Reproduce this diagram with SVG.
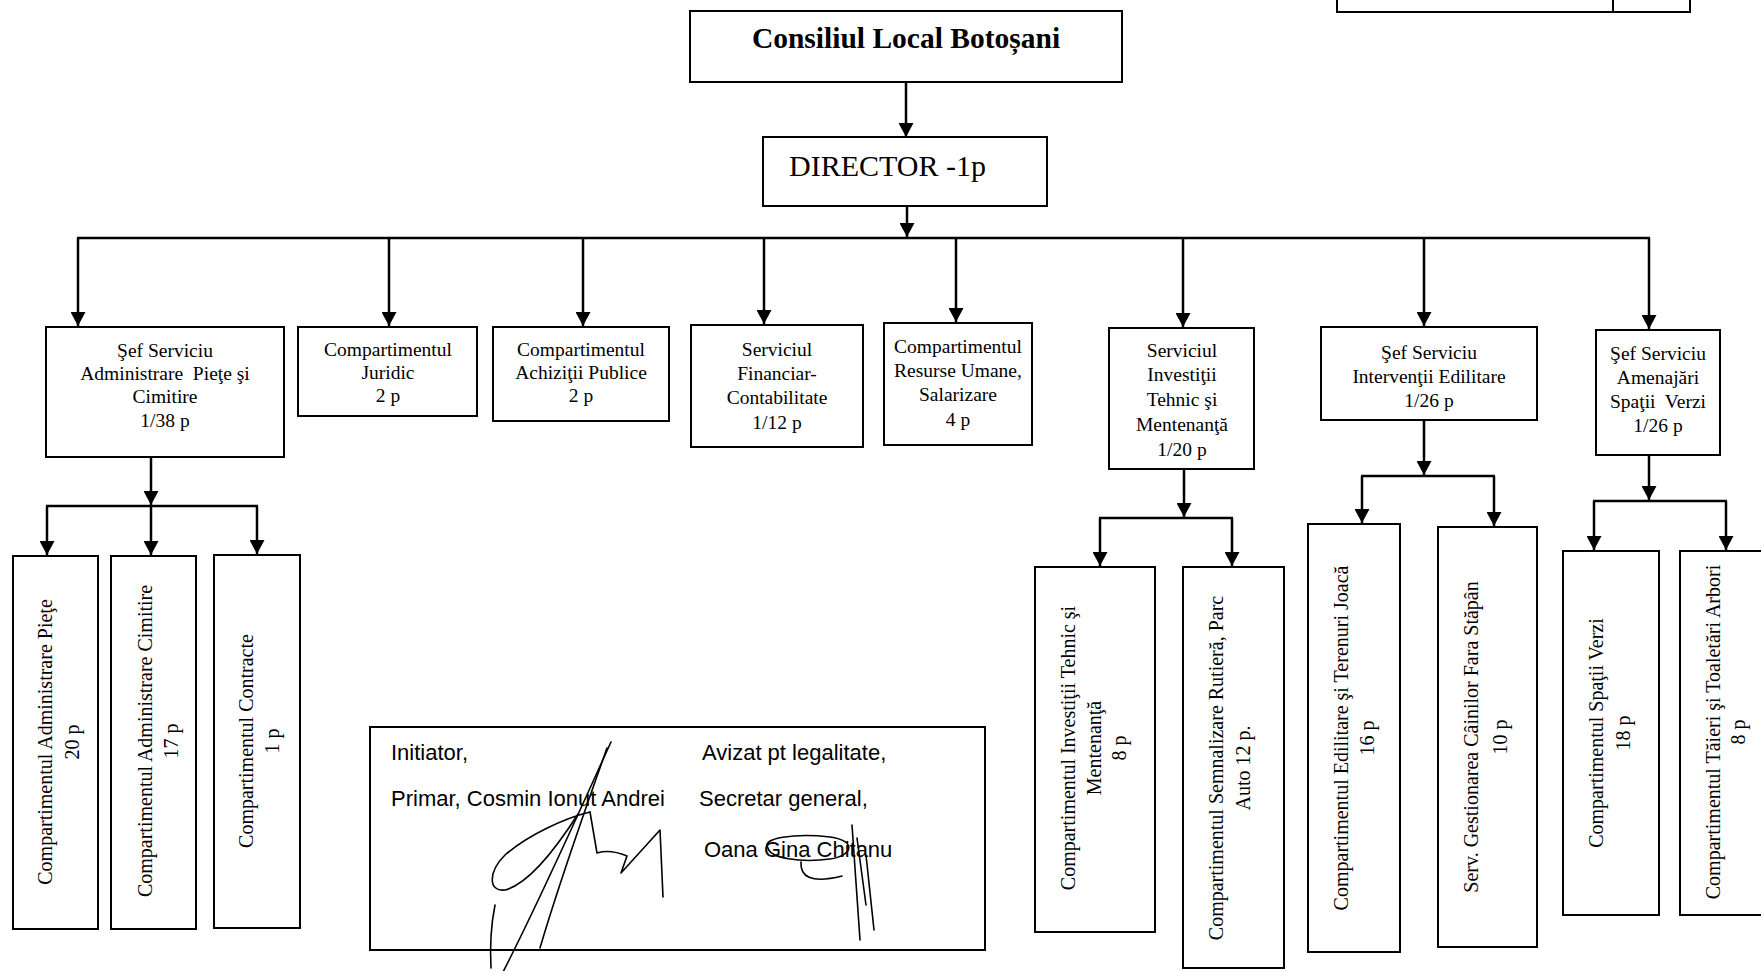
<svg xmlns="http://www.w3.org/2000/svg" width="1761" height="971" viewBox="0 0 1761 971">
<defs>
<style>
.box{fill:#fff;stroke:#000;stroke-width:2}
.ln{fill:none;stroke:#000;stroke-width:2.5}
.arr{fill:none;stroke:#000;stroke-width:2.5;marker-end:url(#ah)}
.t{font-family:"Liberation Serif","Times New Roman",serif;font-size:19.5px;fill:#000;text-anchor:middle}
.v{font-family:"Liberation Serif","Times New Roman",serif;font-size:20px;fill:#000;text-anchor:middle}
.s{font-family:"Liberation Sans",Arial,sans-serif;font-size:22px;fill:#000}
.sig{fill:none;stroke:#000;stroke-width:1.6;stroke-linecap:round;stroke-linejoin:round}
</style>
<marker id="ah" markerUnits="userSpaceOnUse" markerWidth="15" markerHeight="15" refX="14" refY="7.5" orient="auto">
<path d="M0,0 L14,7.5 L0,15 z" fill="#000"/>
</marker>
</defs>
<rect width="1761" height="971" fill="#fff"/>

<g id="connectors">
<line class="arr" x1="906" y1="82" x2="906" y2="137"/>
<line class="arr" x1="907" y1="206" x2="907" y2="237"/>
<line class="ln" x1="77" y1="238" x2="1650" y2="238"/>
<line class="arr" x1="78" y1="238" x2="78" y2="326"/>
<line class="arr" x1="389" y1="238" x2="389" y2="326"/>
<line class="arr" x1="583" y1="238" x2="583" y2="326"/>
<line class="arr" x1="764" y1="238" x2="764" y2="324"/>
<line class="arr" x1="956" y1="238" x2="956" y2="322"/>
<line class="arr" x1="1183" y1="238" x2="1183" y2="327"/>
<line class="arr" x1="1424" y1="238" x2="1424" y2="326"/>
<line class="arr" x1="1649" y1="238" x2="1649" y2="329"/>

<line class="arr" x1="151" y1="457" x2="151" y2="505"/>
<line class="ln" x1="46" y1="506" x2="258" y2="506"/>
<line class="arr" x1="47" y1="506" x2="47" y2="555"/>
<line class="arr" x1="151" y1="506" x2="151" y2="555"/>
<line class="arr" x1="257" y1="506" x2="257" y2="554"/>

<line class="arr" x1="1184" y1="469" x2="1184" y2="517"/>
<line class="ln" x1="1099" y1="518" x2="1233" y2="518"/>
<line class="arr" x1="1100" y1="518" x2="1100" y2="566"/>
<line class="arr" x1="1232" y1="518" x2="1232" y2="566"/>

<line class="arr" x1="1424" y1="420" x2="1424" y2="475"/>
<line class="ln" x1="1361" y1="476" x2="1495" y2="476"/>
<line class="arr" x1="1362" y1="476" x2="1362" y2="523"/>
<line class="arr" x1="1494" y1="476" x2="1494" y2="526"/>

<line class="arr" x1="1649" y1="455" x2="1649" y2="500"/>
<line class="ln" x1="1593" y1="501" x2="1727" y2="501"/>
<line class="arr" x1="1594" y1="501" x2="1594" y2="550"/>
<line class="arr" x1="1726" y1="501" x2="1726" y2="550"/>
</g>

<g id="top-partial">
<rect class="box" x="1337" y="-10" width="353" height="22"/>
<line x1="1613" y1="0" x2="1613" y2="12" stroke="#000" stroke-width="2"/>
</g>

<g id="consiliul">
<rect class="box" x="690" y="11" width="432" height="71"/>
<text x="906" y="48" style="font-family:'Liberation Serif','Times New Roman',serif;font-size:29.5px;font-weight:bold;text-anchor:middle">Consiliul Local Botoșani</text>
</g>

<g id="director">
<rect class="box" x="763" y="137" width="284" height="69"/>
<text x="789" y="176" style="font-family:'Liberation Serif','Times New Roman',serif;font-size:30px">DIRECTOR -1p</text>
</g>

<g id="sef-piete">
<rect class="box" x="46" y="327" width="238" height="130"/>
<text class="t" x="165" y="357">Şef Serviciu</text>
<text class="t" x="165" y="380" xml:space="preserve">Administrare  Pieţe şi</text>
<text class="t" x="165" y="403">Cimitire</text>
<text class="t" x="165" y="427">1/38 p</text>
</g>

<g id="juridic">
<rect class="box" x="298" y="327" width="179" height="89"/>
<text class="t" x="388" y="356">Compartimentul</text>
<text class="t" x="388" y="379">Juridic</text>
<text class="t" x="388" y="402">2 p</text>
</g>

<g id="achizitii">
<rect class="box" x="493" y="327" width="176" height="94"/>
<text class="t" x="581" y="356">Compartimentul</text>
<text class="t" x="581" y="379">Achiziţii Publice</text>
<text class="t" x="581" y="402">2 p</text>
</g>

<g id="financiar">
<rect class="box" x="691" y="325" width="172" height="122"/>
<text class="t" x="777" y="356">Serviciul</text>
<text class="t" x="777" y="380">Financiar-</text>
<text class="t" x="777" y="404">Contabilitate</text>
<text class="t" x="777" y="429">1/12 p</text>
</g>

<g id="resurse">
<rect class="box" x="884" y="323" width="148" height="122"/>
<text class="t" x="958" y="353">Compartimentul</text>
<text class="t" x="958" y="377">Resurse Umane,</text>
<text class="t" x="958" y="401">Salarizare</text>
<text class="t" x="958" y="426">4 p</text>
</g>

<g id="investitii">
<rect class="box" x="1109" y="328" width="145" height="141"/>
<text class="t" x="1182" y="357">Serviciul</text>
<text class="t" x="1182" y="381">Investiţii</text>
<text class="t" x="1182" y="406">Tehnic şi</text>
<text class="t" x="1182" y="431">Mentenanţă</text>
<text class="t" x="1182" y="456">1/20 p</text>
</g>

<g id="interventii">
<rect class="box" x="1321" y="327" width="216" height="93"/>
<text class="t" x="1429" y="359">Şef Serviciu</text>
<text class="t" x="1429" y="383">Intervenţii Edilitare</text>
<text class="t" x="1429" y="407">1/26 p</text>
</g>

<g id="amenajari">
<rect class="box" x="1596" y="330" width="124" height="125"/>
<text class="t" x="1658" y="360">Şef Serviciu</text>
<text class="t" x="1658" y="384">Amenajări</text>
<text class="t" x="1658" y="408" xml:space="preserve">Spaţii  Verzi</text>
<text class="t" x="1658" y="432">1/26 p</text>
</g>

<g id="adm-piete">
<rect class="box" x="13" y="556" width="85" height="373"/>
<text class="v" transform="translate(52,742) rotate(-90)">Compartimentul Administrare Pieţe</text>
<text class="v" transform="translate(79,742) rotate(-90)">20 p</text>
</g>

<g id="adm-cimitire">
<rect class="box" x="111" y="556" width="85" height="373"/>
<text class="v" transform="translate(152,741) rotate(-90)">Compartimentul Administrare Cimitire</text>
<text class="v" transform="translate(178,741) rotate(-90)">17 p</text>
</g>

<g id="contracte">
<rect class="box" x="214" y="555" width="86" height="373"/>
<text class="v" transform="translate(253,741) rotate(-90)">Compartimentul Contracte</text>
<text class="v" transform="translate(279,741) rotate(-90)">1 p</text>
</g>

<g id="inv-tehnic">
<rect class="box" x="1035" y="567" width="120" height="365"/>
<text class="v" transform="translate(1075,748) rotate(-90)">Compartimentul Investiţii Tehnic şi</text>
<text class="v" transform="translate(1101,748) rotate(-90)">Mentenanţă</text>
<text class="v" transform="translate(1126,748) rotate(-90)">8 p</text>
</g>

<g id="semnalizare">
<rect class="box" x="1183" y="567" width="101" height="401"/>
<text class="v" transform="translate(1223,768) rotate(-90)">Compartimentul Semnalizare Rutieră, Parc</text>
<text class="v" transform="translate(1250,768) rotate(-90)">Auto 12 p.</text>
</g>

<g id="edilitare">
<rect class="box" x="1308" y="524" width="92" height="428"/>
<text class="v" transform="translate(1348,738) rotate(-90)">Compartimentul Edilitare şi Terenuri Joacă</text>
<text class="v" transform="translate(1374,738) rotate(-90)">16 p</text>
</g>

<g id="gestionarea">
<rect class="box" x="1438" y="527" width="99" height="420"/>
<text class="v" transform="translate(1478,737) rotate(-90)">Serv. Gestionarea Câinilor Fara Stăpân</text>
<text class="v" transform="translate(1507,737) rotate(-90)">10 p</text>
</g>

<g id="spatii-verzi">
<rect class="box" x="1563" y="551" width="96" height="364"/>
<text class="v" transform="translate(1603,733) rotate(-90)">Compartimentul Spaţii Verzi</text>
<text class="v" transform="translate(1630,733) rotate(-90)">18 p</text>
</g>

<g id="taieri">
<rect class="box" x="1680" y="551" width="95" height="364"/>
<text class="v" transform="translate(1720,732) rotate(-90)">Compartimentul Tăieri şi Toaletări Arbori</text>
<text class="v" transform="translate(1745,732) rotate(-90)">8 p</text>
</g>

<g id="semnaturi">
<rect class="box" x="370" y="727" width="615" height="223"/>
<text class="s" x="391" y="760">Initiator,</text>
<text class="s" x="702" y="760">Avizat pt legalitate,</text>
<text class="s" x="391" y="806">Primar, Cosmin Ionut Andrei</text>
<text class="s" x="699" y="806">Secretar general,</text>
<text class="s" x="704" y="857">Oana Gina Chitanu</text>
<path class="sig" d="M611,742 C580,810 540,900 503,972"/>
<path class="sig" d="M607,748 C585,810 560,880 540,948"/>
<path class="sig" d="M590,812 C565,818 528,835 505,855 C488,872 488,892 505,890 C528,884 555,850 578,814"/>
<path class="sig" d="M590,812 L597,853 Q610,849 627,856 L621,873 L660,830 L663,897"/>
<path class="sig" d="M495,905 C490,930 490,950 491,968"/>
<path class="sig" d="M768,848 C760,838 795,833 830,837 C858,841 852,856 830,859 C800,863 770,858 768,848"/>
<path class="sig" d="M801,862 C800,876 810,884 842,876"/>
<path class="sig" d="M852,825 L860,940"/>
<path class="sig" d="M866,855 L874,930"/>
<path class="sig" d="M857,838 L866,905"/>
</g>
</svg>
